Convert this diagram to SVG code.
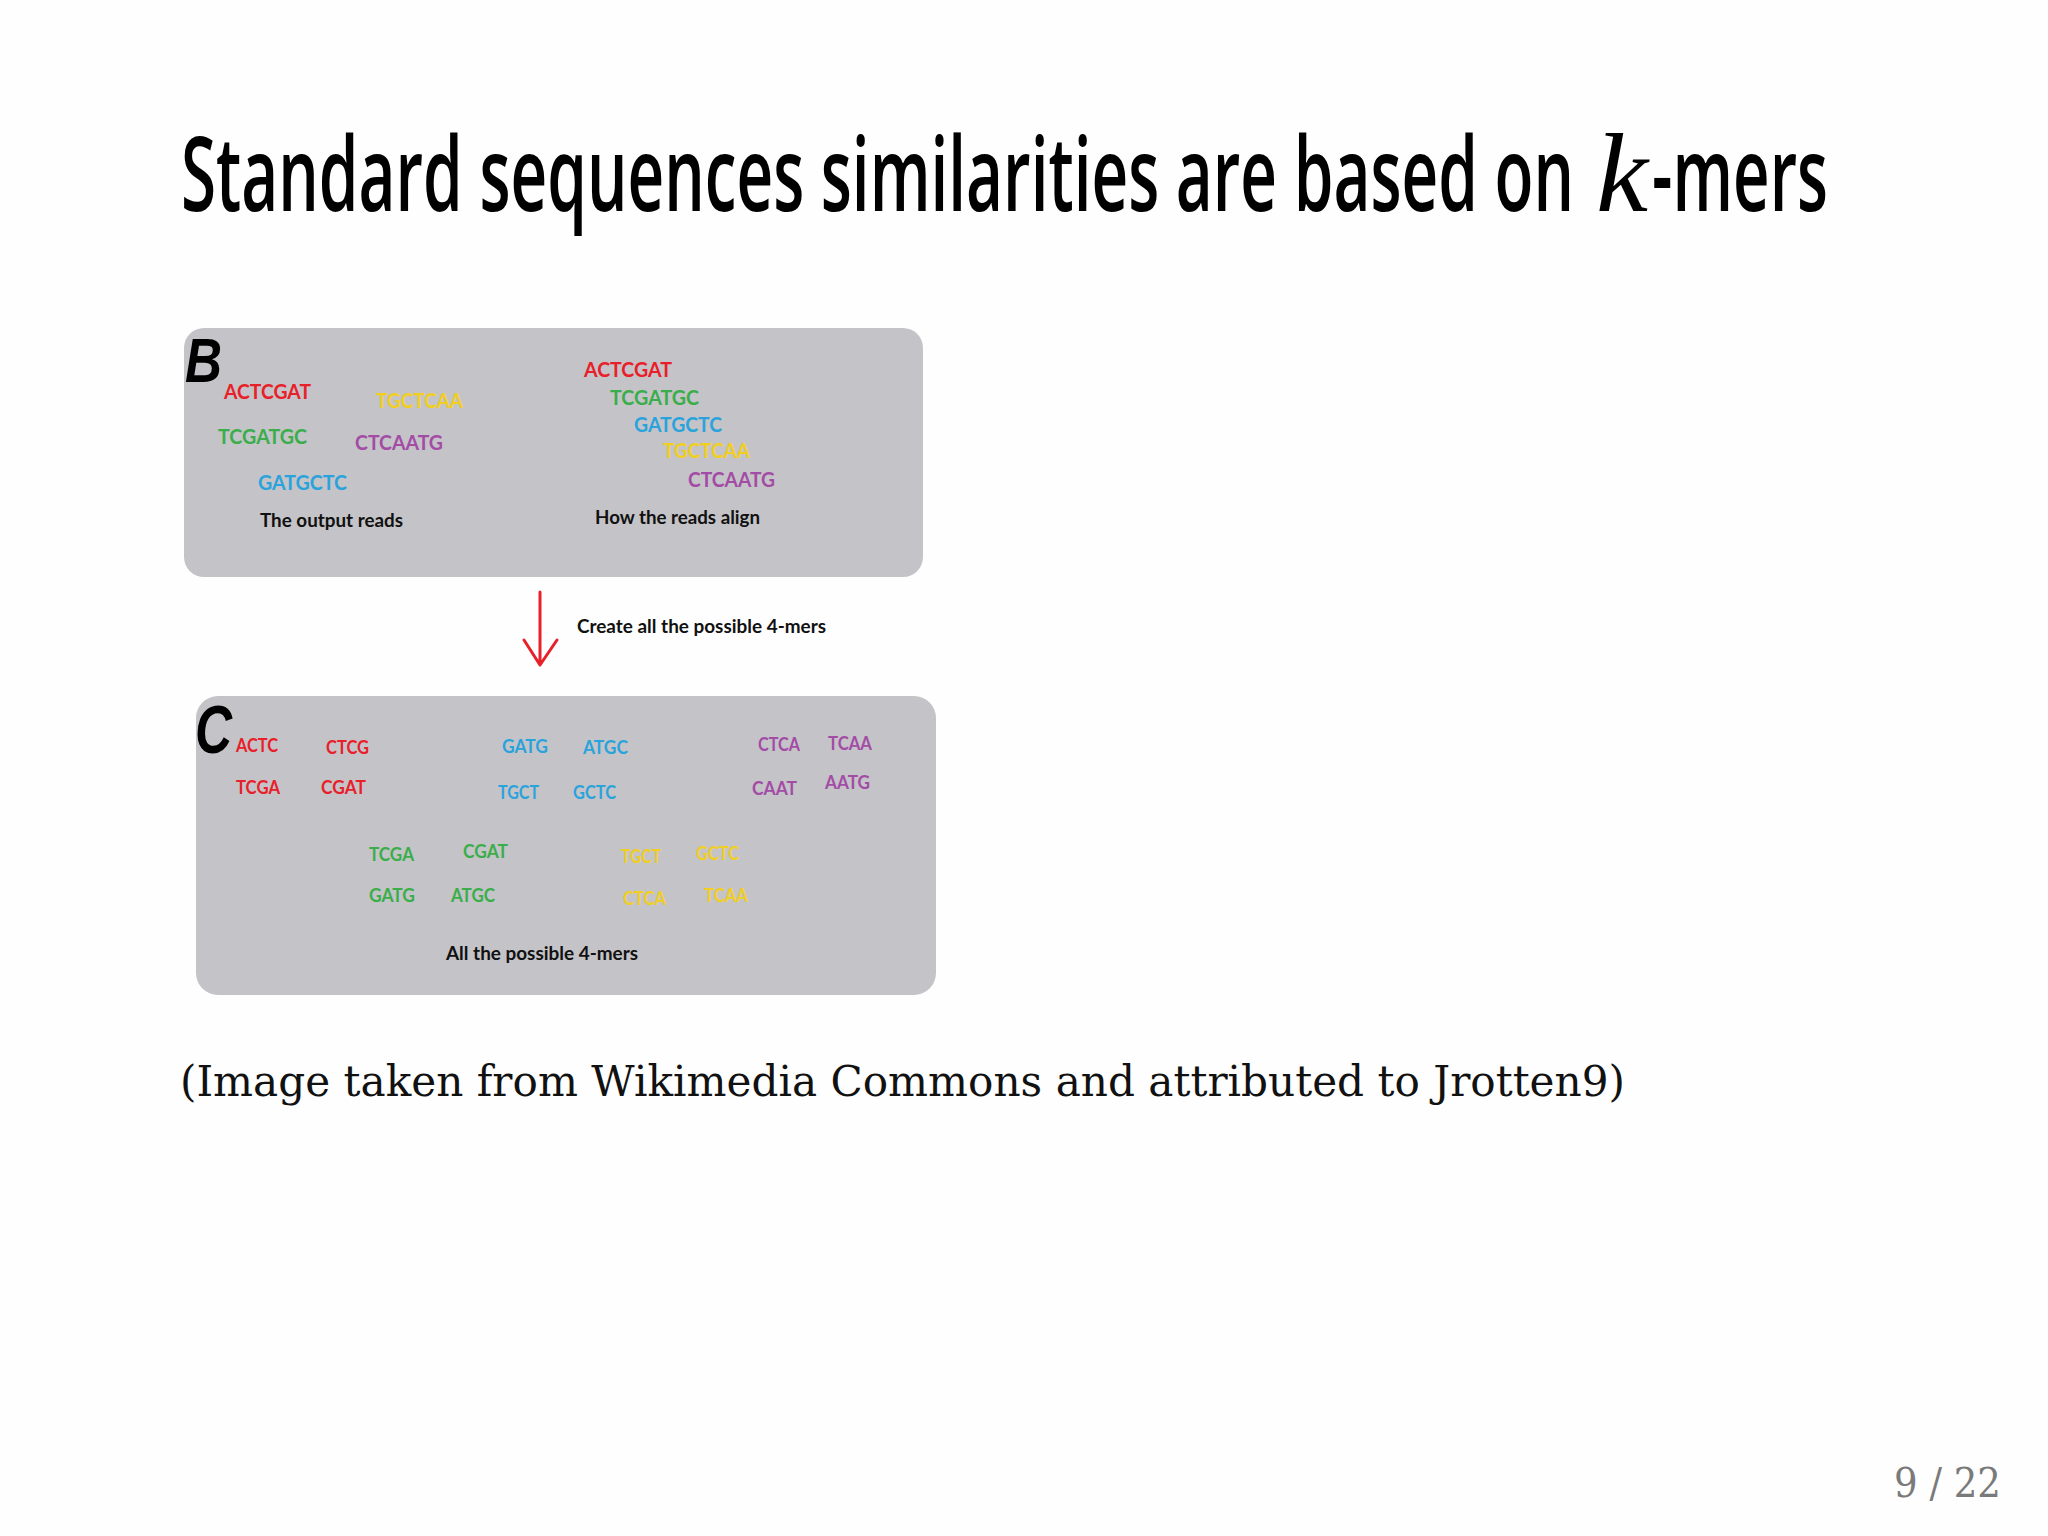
<svg xmlns="http://www.w3.org/2000/svg" width="2048" height="1536" viewBox="0 0 2048 1536">
<style>
.seq{font-family:Lato,"Open Sans","Liberation Sans",sans-serif;font-size:20px;font-weight:bold}
.mer{font-family:Lato,"Open Sans","Liberation Sans",sans-serif;font-size:18px;font-weight:bold}
.lbl{font-family:Lato,"Open Sans","Liberation Sans",sans-serif;font-size:18px;font-weight:bold;fill:#111}
.big{font-family:"Liberation Sans",Arial,sans-serif;font-weight:bold;font-style:italic;fill:#000}
.r{fill:#e8202a}.g{fill:#3aae4a}.b{fill:#2aa3dc}.y{fill:#f2cf1f}.p{fill:#a34ca6}
.panel{fill:#c4c3c7}
.ttl{font-family:"Open Sans","Liberation Sans",sans-serif;font-size:104px;font-weight:600;fill:#000}
</style>
<rect width="2048" height="1536" fill="#fefefe"/>
<g id="title">
<text class="ttl" x="181" y="211" textLength="1393" lengthAdjust="spacingAndGlyphs">Standard sequences similarities are based on</text>
<text x="1596" y="211" font-family="'Liberation Serif','DejaVu Serif',serif" font-style="italic" font-size="112" fill="#000" textLength="52" lengthAdjust="spacingAndGlyphs">k</text>
<text class="ttl" x="1652" y="211" textLength="176" lengthAdjust="spacingAndGlyphs">-mers</text>
</g>
<g id="panel-b">
<rect class="panel" x="184" y="328" width="739" height="249" rx="20"/>
<text class="big" x="185" y="382" font-size="63" textLength="37" lengthAdjust="spacingAndGlyphs">B</text>
<text class="seq r" x="224" y="399" textLength="87" lengthAdjust="spacingAndGlyphs">ACTCGAT</text>
<text class="seq y" x="376" y="408" textLength="87" lengthAdjust="spacingAndGlyphs">TGCTCAA</text>
<text class="seq g" x="218" y="444" textLength="89" lengthAdjust="spacingAndGlyphs">TCGATGC</text>
<text class="seq p" x="355" y="450" textLength="88" lengthAdjust="spacingAndGlyphs">CTCAATG</text>
<text class="seq b" x="258" y="490" textLength="89" lengthAdjust="spacingAndGlyphs">GATGCTC</text>
<text class="lbl" x="260" y="527" textLength="143" lengthAdjust="spacingAndGlyphs">The output reads</text>
<text class="seq r" x="584" y="377" textLength="88" lengthAdjust="spacingAndGlyphs">ACTCGAT</text>
<text class="seq g" x="610" y="405" textLength="89" lengthAdjust="spacingAndGlyphs">TCGATGC</text>
<text class="seq b" x="634" y="432" textLength="88" lengthAdjust="spacingAndGlyphs">GATGCTC</text>
<text class="seq y" x="663" y="458" textLength="87" lengthAdjust="spacingAndGlyphs">TGCTCAA</text>
<text class="seq p" x="688" y="487" textLength="87" lengthAdjust="spacingAndGlyphs">CTCAATG</text>
<text class="lbl" x="595" y="524" textLength="165" lengthAdjust="spacingAndGlyphs">How the reads align</text>
</g>
<g id="connectors">
<path d="M540 592 V665 M524 640 L540 665 L557 640" fill="none" stroke="#e8202a" stroke-width="3" stroke-linecap="round" stroke-linejoin="round"/>
</g>
<g id="arrow-label">
<text class="lbl" x="577" y="633" textLength="249" lengthAdjust="spacingAndGlyphs">Create all the possible 4-mers</text>
</g>
<g id="panel-c">
<rect class="panel" x="196" y="696" width="740" height="299" rx="22"/>
<text class="big" x="195" y="753" font-size="68" textLength="37" lengthAdjust="spacingAndGlyphs">C</text>
<text class="mer r" x="236" y="752" textLength="42" lengthAdjust="spacingAndGlyphs">ACTC</text>
<text class="mer r" x="326" y="754" textLength="43" lengthAdjust="spacingAndGlyphs">CTCG</text>
<text class="mer r" x="236" y="794" textLength="44" lengthAdjust="spacingAndGlyphs">TCGA</text>
<text class="mer r" x="321" y="794" textLength="45" lengthAdjust="spacingAndGlyphs">CGAT</text>
<text class="mer b" x="502" y="753" textLength="46" lengthAdjust="spacingAndGlyphs">GATG</text>
<text class="mer b" x="583" y="754" textLength="45" lengthAdjust="spacingAndGlyphs">ATGC</text>
<text class="mer b" x="498" y="799" textLength="41" lengthAdjust="spacingAndGlyphs">TGCT</text>
<text class="mer b" x="573" y="799" textLength="43" lengthAdjust="spacingAndGlyphs">GCTC</text>
<text class="mer p" x="758" y="751" textLength="42" lengthAdjust="spacingAndGlyphs">CTCA</text>
<text class="mer p" x="828" y="750" textLength="44" lengthAdjust="spacingAndGlyphs">TCAA</text>
<text class="mer p" x="752" y="795" textLength="45" lengthAdjust="spacingAndGlyphs">CAAT</text>
<text class="mer p" x="825" y="789" textLength="45" lengthAdjust="spacingAndGlyphs">AATG</text>
<text class="mer g" x="369" y="861" textLength="45" lengthAdjust="spacingAndGlyphs">TCGA</text>
<text class="mer g" x="463" y="858" textLength="45" lengthAdjust="spacingAndGlyphs">CGAT</text>
<text class="mer g" x="369" y="902" textLength="46" lengthAdjust="spacingAndGlyphs">GATG</text>
<text class="mer g" x="451" y="902" textLength="44" lengthAdjust="spacingAndGlyphs">ATGC</text>
<text class="mer y" x="621" y="863" textLength="40" lengthAdjust="spacingAndGlyphs">TGCT</text>
<text class="mer y" x="696" y="860" textLength="43" lengthAdjust="spacingAndGlyphs">GCTC</text>
<text class="mer y" x="623" y="905" textLength="43" lengthAdjust="spacingAndGlyphs">CTCA</text>
<text class="mer y" x="704" y="902" textLength="44" lengthAdjust="spacingAndGlyphs">TCAA</text>
<text class="lbl" x="446" y="960" textLength="192" lengthAdjust="spacingAndGlyphs">All the possible 4-mers</text>
</g>
<g id="caption">
<text x="180" y="1096" font-family="'DejaVu Serif','Liberation Serif',serif" font-size="43" fill="#111" textLength="1445" lengthAdjust="spacingAndGlyphs">(Image taken from Wikimedia Commons and attributed to Jrotten9)</text>
</g>
<g id="page-number">
<text x="1894" y="1497" font-family="'DejaVu Serif','Liberation Serif',serif" font-size="41" fill="#7a7a7a" textLength="107" lengthAdjust="spacingAndGlyphs">9 / 22</text>
</g>
</svg>
